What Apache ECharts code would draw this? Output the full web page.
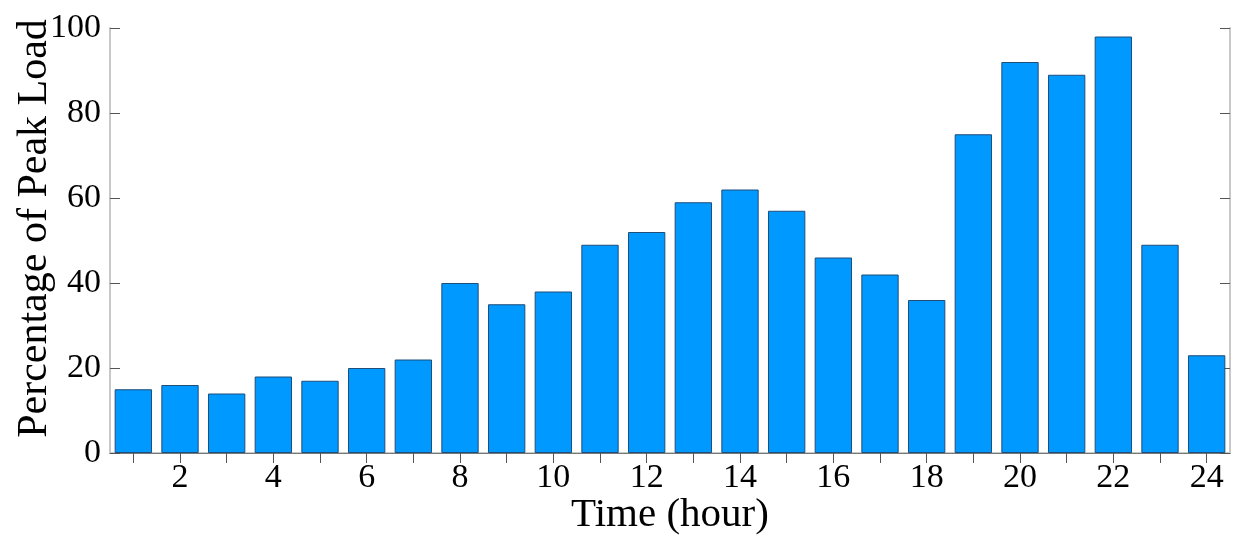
<!DOCTYPE html>
<html><head><meta charset="utf-8">
<script src="https://cdn.jsdelivr.net/npm/echarts@6/dist/echarts.min.js"></script>
<style>html,body{margin:0;padding:0;background:#fff}#c{width:1248px;height:547px}</style>
</head><body><div id="c"></div>
<script>
const hours = ['1','2','3','4','5','6','7','8','9','10','11','12','13','14','15','16','17','18','19','20','21','22','23','24'];
const loadPct = [15,16,14,18,17,20,22,40,35,38,49,52,59,62,57,46,42,36,75,92,89,98,49,23];
const yTicks = [0,20,40,60,80,100];
const xTitle = 'Time (hour)';
const yTitle = 'Percentage of Peak Load';

const font = '"Liberation Serif", "Times New Roman", serif';
const chart = echarts.init(document.getElementById('c'), null, {renderer:'canvas'});
chart.setOption({
  animation:false,
  grid:{left:110,right:18,top:28,bottom:94,containLabel:false,outerBoundsMode:'none'},
  xAxis:[{
    type:'category', data:hours, boundaryGap:true, position:'bottom',
    name:xTitle, nameLocation:'middle', nameGap:42, nameMoveOverlap:false,
    nameTextStyle:{fontFamily:font,fontSize:41,color:'#000'},
    axisLine:{show:true,lineStyle:{color:'#c8c8c8',width:2}},
    axisTick:{show:false},
    axisLabel:{fontFamily:font,fontSize:34,color:'#000',margin:8,
      interval:(i)=> i%2===1},
    splitLine:{show:false}
  },{
    type:'category', data:hours, position:'top', boundaryGap:true,
    axisLine:{show:true,lineStyle:{color:'#777',width:1}},
    axisTick:{show:true,inside:true,alignWithLabel:true,interval:0,length:10,lineStyle:{color:'#555'}},
    axisLabel:{show:false}, splitLine:{show:false}
  }],
  yAxis:[{
    type:'value', min:0, max:100, interval:20, position:'left',
    name:yTitle, nameLocation:'middle', nameGap:54, nameMoveOverlap:false,
    nameTextStyle:{fontFamily:font,fontSize:42,color:'#000',padding:[0,0,0,24]},
    axisLine:{show:true,lineStyle:{color:'#c8c8c8',width:2}},
    axisTick:{show:true,inside:true,length:10,lineStyle:{color:'#555'}},
    axisLabel:{fontFamily:font,fontSize:34,color:'#000',margin:9,
      formatter:v=> yTicks.includes(v)? String(v):''},
    splitLine:{show:false}
  },{
    type:'value', min:0, max:100, interval:20, position:'right',
    axisLine:{show:true,lineStyle:{color:'#c8c8c8',width:2}},
    axisTick:{show:true,inside:true,length:10,lineStyle:{color:'#555'}},
    axisLabel:{show:false}, splitLine:{show:false}
  }],
  series:[{
    type:'bar', data:loadPct, xAxisIndex:0, yAxisIndex:0,
    barCategoryGap:'20%',
    itemStyle:{color:'#0099ff',borderColor:'#1f4e79',borderWidth:1}
  }]
});
</script></body></html>
